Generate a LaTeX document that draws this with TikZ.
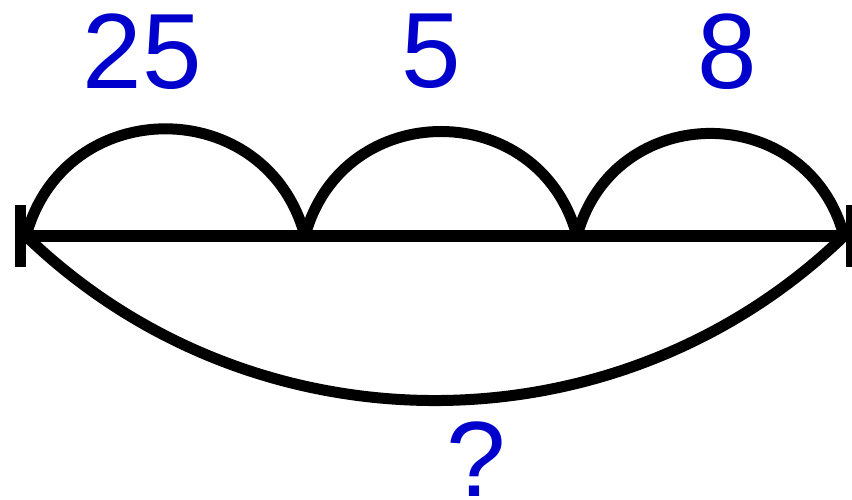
\documentclass[tikz,border=0pt]{standalone}
\usepackage{fontspec}
\setmainfont{Liberation Sans}
\usepackage{xcolor}
\definecolor{numblue}{RGB}{0, 0, 204}

\begin{document}
\begin{tikzpicture}[
    x=1pt, y=1pt, line width=11pt,
    hump/.style={out=75, in=105, looseness=1.36},
    sag/.style={out=-44, in=-136, looseness=0.99},
    num/.style={text=numblue, inner sep=0pt, font=\fontsize{107}{120}\selectfont}
]
    \useasboundingbox (0,0) rectangle (852,499);
    % points on the line
    \coordinate (L) at (20.5,263);
    \coordinate (R) at (851,263);
    \coordinate (A) at (26,263);
    \coordinate (B) at (305,263);
    \coordinate (C) at (577,263);
    \coordinate (D) at (844,263);
    % line with end ticks
    \draw (L) -- (R);
    \draw ([yshift=-30.5pt]L) -- ([yshift=30.5pt]L);
    \draw ([yshift=-30.5pt]R) -- ([yshift=30.5pt]R);
    % arcs
    \draw (A) to[hump] (B);
    \draw (B) to[hump] (C);
    \draw (C) to[hump] (D);
    \draw (A) to[sag] (D);
    % labels
    \node[num] (lab25) at (142.5,447.5) {25};
    \node[num] (lab5) at (431.5,447.5) {5};
    \node[num] (lab8) at (727,447.5) {8};
    \node[num] (labq) at (476,40) {?};
\end{tikzpicture}
\end{document}
